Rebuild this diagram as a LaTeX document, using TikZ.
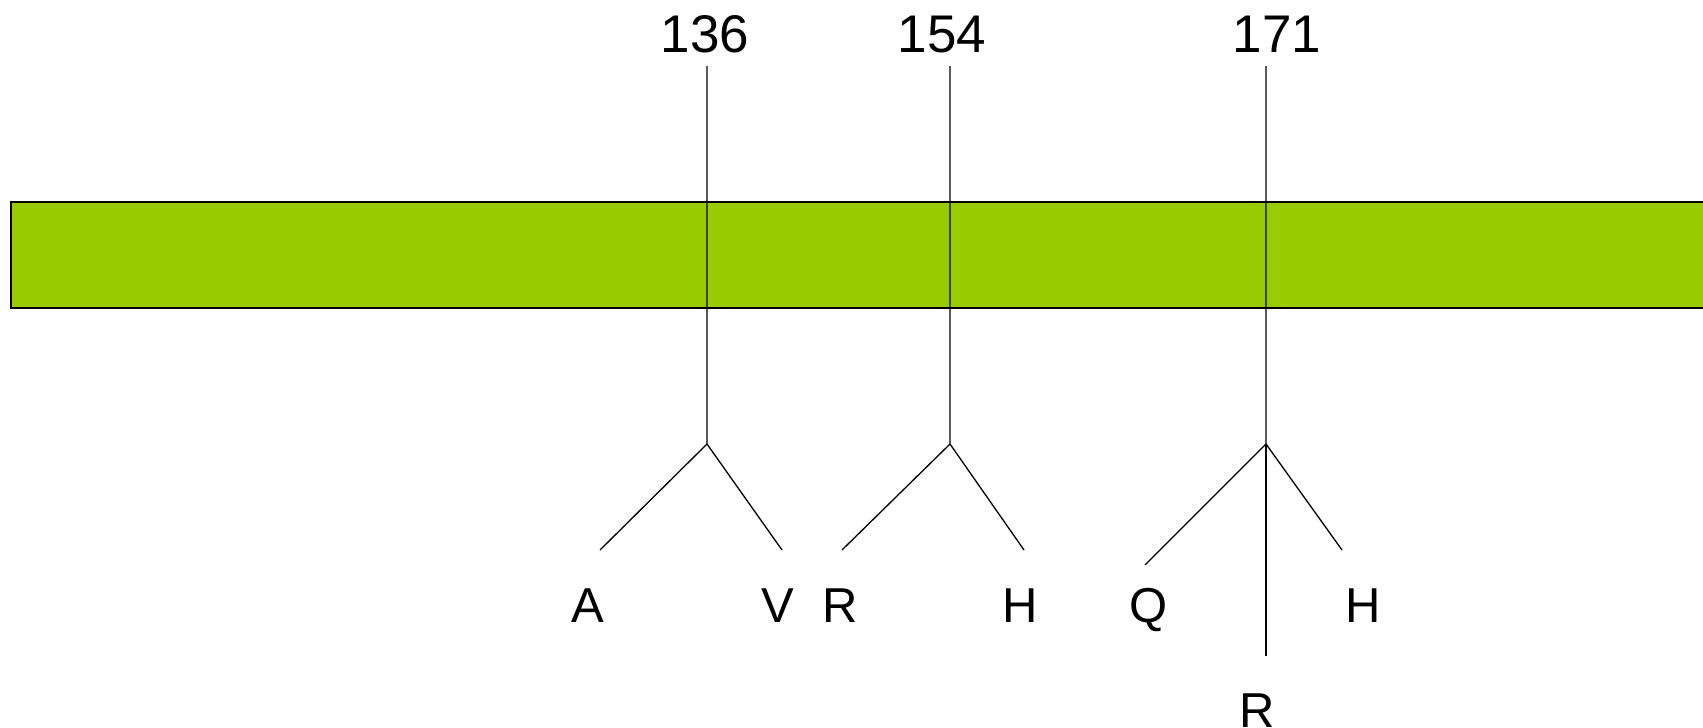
\documentclass[tikz,border=0pt]{standalone}
\usepackage{fontspec}
\setmainfont{Liberation Sans}
\definecolor{bargreen}{HTML}{99CC00}
\begin{document}
\begin{tikzpicture}[x=1pt,y=-1pt,
  ln/.style={line width=1.3pt,black},
  numlab/.style={anchor=base,inner sep=0pt,font=\fontsize{53}{60}\selectfont},
  aalab/.style={anchor=base,inner sep=0pt,font=\fontsize{49}{56}\selectfont}]
\useasboundingbox (0,0) rectangle (1703,728);
\clip (0,0) rectangle (1703,728);
% bar
\path[fill=bargreen,draw=black,line width=1.4pt] (11,202) rectangle (1720,308);
% number labels
\node[numlab] (n136) at (705,52) {136};
\node[numlab] (n154) at (942,52) {154};
\node[numlab] (n171) at (1277,52) {171};
% coordinates
\coordinate (t1) at (707,66);  \coordinate (j1) at (707,444);
\coordinate (t2) at (950,66);  \coordinate (j2) at (950,444);
\coordinate (t3) at (1266,66); \coordinate (j3) at (1266,444);
\coordinate (a1) at (600,550); \coordinate (v1) at (782,550);
\coordinate (r2) at (842,550); \coordinate (h2) at (1024,550);
\coordinate (q3) at (1145,565); \coordinate (h3) at (1342,550);
\coordinate (r3) at (1266,656);
% lines
\draw[ln] (t1) -- (j1) -- (a1);
\draw[ln] (j1) -- (v1);
\draw[ln] (t2) -- (j2) -- (r2);
\draw[ln] (j2) -- (h2);
\draw[ln] (t3) -- (j3) -- (q3);
\draw[ln] (j3) -- (h3);
\draw[ln] (j3) -- (r3);
% residue labels
\node[aalab] (lA) at (588,622) {A};
\node[aalab] (lV) at (778,622) {V};
\node[aalab] (lR) at (840,622) {R};
\node[aalab] (lH) at (1020,622) {H};
\node[aalab] (lQ) at (1149,622) {Q};
\node[aalab] (lH2) at (1363,622) {H};
\node[aalab] (lR2) at (1257,727) {R};
\end{tikzpicture}
\end{document}
